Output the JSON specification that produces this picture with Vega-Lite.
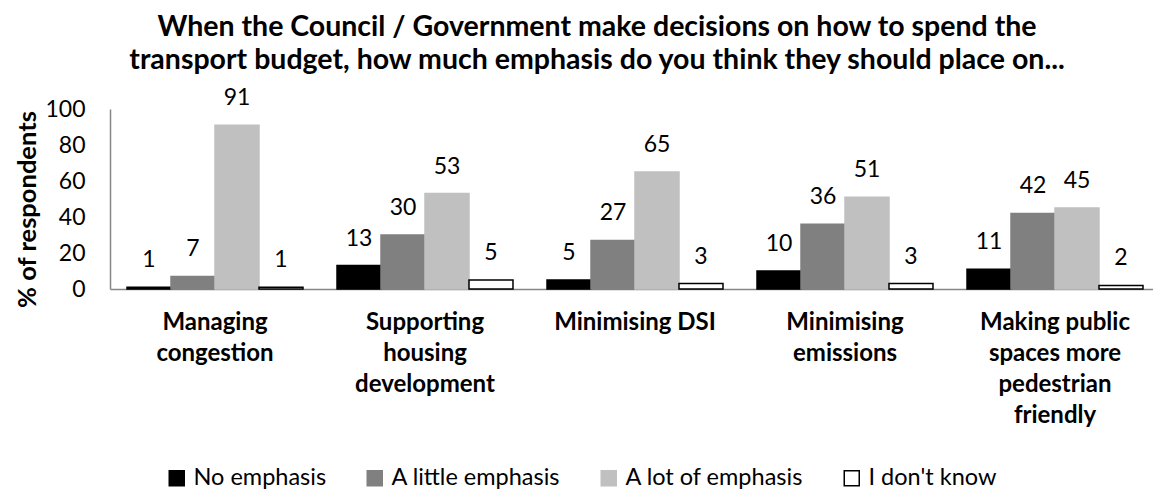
{
  "$schema": "https://vega.github.io/schema/vega-lite/v6.json",
  "autosize": "none",
  "width": 1050,
  "height": 180,
  "padding": {"left": 110, "top": 109, "right": 0, "bottom": 202},
  "background": "white",
  "config": {
    "font": "Lato",
    "view": {"stroke": null},
    "axis": {"grid": false, "ticks": false, "domainColor": "#868686", "domainWidth": 1.5, "labelColor": "#000000", "titleColor": "#000000"}
  },
  "title": {
    "text": ["When the Council / Government make decisions on how to spend the", "transport budget, how much emphasis do you think they should place on..."],
    "fontSize": 28.5,
    "fontWeight": "bold",
    "lineHeight": 33,
    "anchor": "middle",
    "frame": "group",
    "dx": -38,
    "offset": 13,
    "color": "#000000"
  },
  "data": {
    "values": [
      {"area": "Managing|congestion", "response": "No emphasis", "pct": 1},
      {"area": "Managing|congestion", "response": "A little emphasis", "pct": 7},
      {"area": "Managing|congestion", "response": "A lot of emphasis", "pct": 91},
      {"area": "Managing|congestion", "response": "I don't know", "pct": 1},
      {"area": "Supporting|housing|development", "response": "No emphasis", "pct": 13},
      {"area": "Supporting|housing|development", "response": "A little emphasis", "pct": 30},
      {"area": "Supporting|housing|development", "response": "A lot of emphasis", "pct": 53},
      {"area": "Supporting|housing|development", "response": "I don't know", "pct": 5},
      {"area": "Minimising DSI", "response": "No emphasis", "pct": 5},
      {"area": "Minimising DSI", "response": "A little emphasis", "pct": 27},
      {"area": "Minimising DSI", "response": "A lot of emphasis", "pct": 65},
      {"area": "Minimising DSI", "response": "I don't know", "pct": 3},
      {"area": "Minimising|emissions", "response": "No emphasis", "pct": 10},
      {"area": "Minimising|emissions", "response": "A little emphasis", "pct": 36},
      {"area": "Minimising|emissions", "response": "A lot of emphasis", "pct": 51},
      {"area": "Minimising|emissions", "response": "I don't know", "pct": 3},
      {"area": "Making public|spaces more|pedestrian|friendly", "response": "No emphasis", "pct": 11},
      {"area": "Making public|spaces more|pedestrian|friendly", "response": "A little emphasis", "pct": 42},
      {"area": "Making public|spaces more|pedestrian|friendly", "response": "A lot of emphasis", "pct": 45},
      {"area": "Making public|spaces more|pedestrian|friendly", "response": "I don't know", "pct": 2}
    ]
  },
  "encoding": {
    "x": {
      "field": "area",
      "type": "nominal",
      "sort": null,
      "scale": {"paddingInner": 0.162, "paddingOuter": 0.081},
      "axis": {
        "title": null,
        "labelAngle": 0,
        "labelExpr": "split(datum.value, '|')",
        "labelFontSize": 24,
        "labelFontWeight": "bold",
        "labelLineHeight": 31,
        "labelPadding": 21,
        "labelLimit": 300
      }
    },
    "xOffset": {
      "field": "response",
      "type": "nominal",
      "sort": ["No emphasis", "A little emphasis", "A lot of emphasis", "I don't know"],
      "scale": {"paddingInner": 0, "paddingOuter": 0}
    },
    "y": {
      "field": "pct",
      "type": "quantitative",
      "scale": {"domain": [0, 100]},
      "axis": {
        "title": "% of respondents",
        "titleFontSize": 25.5,
        "titleFontWeight": "bold",
        "titlePadding": 4,
        "titleY": 100,
        "labelFontSize": 23,
        "labelPadding": 25,
        "values": [0, 20, 40, 60, 80, 100]
      }
    }
  },
  "layer": [
    {
      "mark": {"type": "bar", "strokeWidth": 1.5},
      "encoding": {
        "fill": {
          "field": "response",
          "type": "nominal",
          "sort": ["No emphasis", "A little emphasis", "A lot of emphasis", "I don't know"],
          "scale": {"range": ["#000000", "#808080", "#c0c0c0", "#ffffff"]},
          "legend": {
            "title": null,
            "orient": "none",
            "direction": "horizontal",
            "legendX": 55,
            "legendY": 357,
            "labelFontSize": 23.5,
            "labelColor": "#000000",
            "labelLimit": 300,
            "symbolType": "square",
            "symbolSize": 225,
            "columnPadding": 36,
            "labelOffset": 5,
            "encode": {
              "symbols": {
                "update": {
                  "stroke": {"scale": "stroke", "field": "value"},
                  "strokeWidth": {"value": 1.5}
                }
              }
            }
          }
        },
        "stroke": {
          "field": "response",
          "type": "nominal",
          "sort": ["No emphasis", "A little emphasis", "A lot of emphasis", "I don't know"],
          "scale": {"range": ["#000000", "#808080", "#c0c0c0", "#000000"]},
          "legend": null
        }
      }
    },
    {
      "mark": {"type": "text", "fontSize": 23, "dy": -20, "baseline": "alphabetic", "color": "#000000"},
      "encoding": {"text": {"field": "pct", "type": "quantitative"}}
    }
  ]
}
